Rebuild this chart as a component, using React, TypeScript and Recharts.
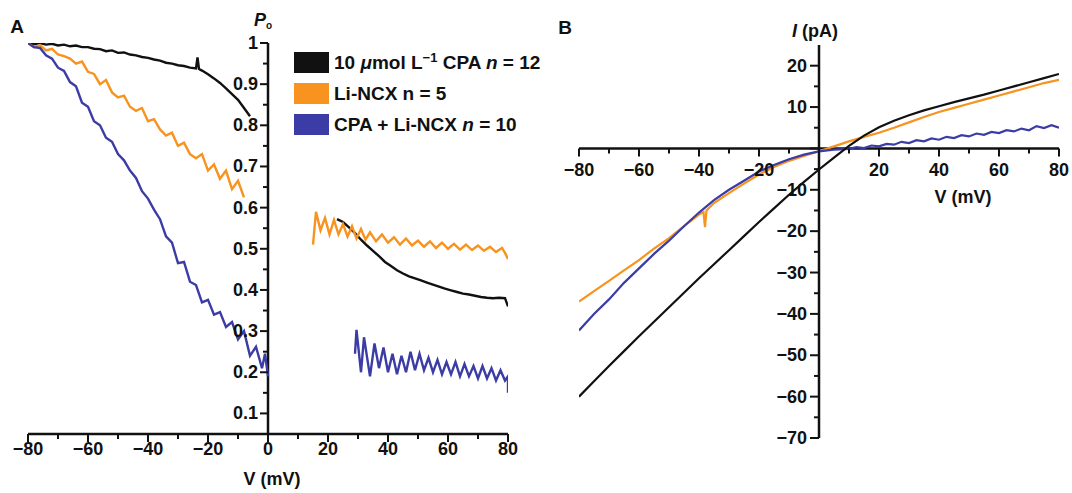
import { LineChart, Line, XAxis, YAxis, ReferenceLine, Legend } from "recharts";

const FONT = "'Liberation Sans', Arial, Helvetica, sans-serif";
const INK = "#111111";
const BLACK = "#111111";
const ORANGE = "#f7931e";
const BLUE = "#3c3ca6";

// ---- panel A: Po vs V (each trace has a left and right segment) ----
const cpaPoLeft: [number, number][] = [
  [-80, 1.0], [-78, 0.997], [-76, 1.0], [-74, 0.996], [-72, 0.998], [-70, 0.994],
  [-68, 0.996], [-66, 0.992], [-64, 0.994], [-62, 0.99], [-60, 0.99], [-58, 0.986],
  [-56, 0.985], [-54, 0.98], [-52, 0.982], [-50, 0.976], [-48, 0.977], [-46, 0.972],
  [-44, 0.97], [-42, 0.966], [-40, 0.964], [-38, 0.96], [-36, 0.957], [-34, 0.952],
  [-32, 0.95], [-30, 0.946], [-28, 0.944], [-26, 0.94], [-24, 0.938], [-23.5, 0.965],
  [-23, 0.937], [-22, 0.933], [-20, 0.924], [-18, 0.914], [-16, 0.903], [-14, 0.89],
  [-12, 0.876], [-10, 0.862], [-8, 0.842], [-6, 0.822],
];
const cpaPoRight: [number, number][] = [
  [23, 0.572], [25, 0.565], [27, 0.552], [29, 0.538], [31, 0.522], [33, 0.508],
  [35, 0.495], [37, 0.482], [39, 0.468], [41, 0.458], [43, 0.448], [45, 0.44],
  [47, 0.433], [49, 0.428], [51, 0.423], [53, 0.418], [55, 0.413], [57, 0.408],
  [59, 0.403], [61, 0.399], [63, 0.395], [65, 0.391], [67, 0.389], [69, 0.386],
  [71, 0.383], [73, 0.381], [75, 0.38], [77, 0.381], [79, 0.38], [80, 0.36],
];
const ncxPoLeft: [number, number][] = [
  [-80, 1.0], [-78, 0.99], [-76, 0.995], [-74, 0.982], [-72, 0.986], [-70, 0.972],
  [-68, 0.968], [-66, 0.962], [-64, 0.95], [-62, 0.955], [-60, 0.93], [-58, 0.925],
  [-56, 0.9], [-54, 0.91], [-52, 0.88], [-50, 0.868], [-48, 0.872], [-46, 0.845],
  [-44, 0.835], [-42, 0.842], [-40, 0.81], [-38, 0.815], [-36, 0.79], [-34, 0.775],
  [-32, 0.782], [-30, 0.75], [-28, 0.758], [-26, 0.73], [-24, 0.72], [-22, 0.73],
  [-20, 0.69], [-18, 0.705], [-16, 0.67], [-14, 0.69], [-12, 0.645], [-10, 0.665],
  [-8, 0.625],
];
const ncxPoRight: [number, number][] = [
  [15, 0.51], [16, 0.59], [17.5, 0.545], [19, 0.575], [20.5, 0.535], [22, 0.57],
  [23.5, 0.535], [25, 0.56], [26.5, 0.53], [28, 0.555], [29.5, 0.525], [31, 0.548],
  [32.5, 0.522], [34, 0.54], [36, 0.518], [38, 0.535], [40, 0.515], [42, 0.528],
  [44, 0.51], [46, 0.525], [48, 0.508], [50, 0.52], [52, 0.505], [54, 0.518],
  [56, 0.502], [58, 0.515], [60, 0.5], [62, 0.512], [64, 0.498], [66, 0.51],
  [68, 0.497], [70, 0.508], [72, 0.495], [74, 0.505], [76, 0.492], [78, 0.502],
  [79, 0.49], [80, 0.475],
];
const bothPoLeft: [number, number][] = [
  [-80, 1.0], [-78, 0.99], [-76, 0.988], [-74, 0.97], [-72, 0.962], [-70, 0.94],
  [-68, 0.932], [-66, 0.905], [-64, 0.895], [-62, 0.855], [-60, 0.845], [-58, 0.81],
  [-56, 0.8], [-54, 0.77], [-52, 0.76], [-50, 0.73], [-48, 0.715], [-46, 0.69],
  [-44, 0.672], [-42, 0.64], [-40, 0.622], [-38, 0.595], [-36, 0.572], [-34, 0.53],
  [-32, 0.515], [-30, 0.465], [-28, 0.468], [-26, 0.42], [-24, 0.412], [-22, 0.37],
  [-20, 0.376], [-18, 0.34], [-16, 0.346], [-14, 0.31], [-12, 0.322], [-10, 0.28],
  [-8, 0.3], [-6, 0.24], [-4, 0.262], [-2, 0.21], [-1, 0.245], [0, 0.19],
];
const bothPoRight: [number, number][] = [
  [29, 0.245], [29.5, 0.303], [31, 0.2], [32, 0.285], [34, 0.19], [35.5, 0.27],
  [37, 0.21], [38.5, 0.26], [40, 0.2], [41.5, 0.245], [43, 0.195], [44.5, 0.24],
  [46, 0.2], [47.5, 0.25], [49, 0.205], [50.5, 0.245], [52, 0.205], [53.5, 0.235],
  [55, 0.2], [56.5, 0.23], [58, 0.195], [59.5, 0.225], [61, 0.195], [62.5, 0.225],
  [64, 0.19], [65.5, 0.22], [67, 0.19], [68.5, 0.215], [70, 0.185], [71.5, 0.215],
  [73, 0.185], [74.5, 0.21], [76, 0.18], [77.5, 0.205], [79, 0.18], [80, 0.19],
  [80, 0.15],
];

// ---- panel B: I-V curves ----
const cpaIV: [number, number][] = [
  [-80, -60], [-75, -56.3], [-70, -52.6], [-65, -49], [-60, -45.4], [-55, -41.9],
  [-50, -38.4], [-45, -34.9], [-40, -31.4], [-35, -28], [-30, -24.6], [-25, -21.2],
  [-20, -17.8], [-15, -14.5], [-10, -11.2], [-5, -8.1], [0, -5.1], [5, -2.2], [10, 0.6],
  [15, 3.1], [20, 5.1], [25, 6.7], [30, 8], [35, 9.2], [40, 10.2], [45, 11.2],
  [50, 12.1], [55, 13], [60, 14], [65, 15], [70, 16], [75, 17], [80, 18],
];
const ncxIV: [number, number][] = [
  [-80, -37], [-75, -34.5], [-70, -32], [-65, -29.5], [-60, -27], [-55, -24.2],
  [-50, -21.7], [-45, -18.8], [-40, -16], [-38.5, -15.4], [-38, -19], [-37.5, -15],
  [-35, -13.2], [-30, -10.8], [-25, -8.5], [-20, -6.3], [-15, -4.5], [-10, -3],
  [-5, -1.8], [0, -0.7], [5, 0.5], [10, 1.7], [15, 2.8], [20, 3.8], [25, 5],
  [30, 6.3], [35, 7.6], [40, 8.8], [45, 9.8], [50, 10.8], [55, 11.8], [60, 12.8],
  [65, 13.8], [70, 14.8], [75, 15.8], [80, 16.6],
];
const bothIV: [number, number][] = [
  [-80, -44], [-75, -40], [-70, -36.5], [-65, -32.5], [-60, -29], [-55, -25.5],
  [-50, -22.3], [-45, -18.8], [-40, -15.5], [-35, -12.5], [-30, -10], [-25, -7.8],
  [-20, -5.6], [-15, -4], [-10, -2.6], [-5, -1.5], [0, -0.7], [5, -0.3], [10, -0.1],
  [12.5, 0.3], [15, 0.1], [17.5, 0.7], [20, 0.5], [22.5, 1.1], [25, 0.9], [27.5, 1.6],
  [30, 1.3], [32.5, 2.0], [35, 1.7], [37.5, 2.4], [40, 2.1], [42.5, 2.8], [45, 2.5],
  [47.5, 3.2], [50, 2.9], [52.5, 3.6], [55, 3.3], [57.5, 4.0], [60, 3.7], [62.5, 4.4],
  [65, 4.1], [67.5, 4.8], [70, 4.4], [72.5, 5.4], [75, 4.9], [77.5, 5.6], [80, 5.0],
];

const vTicks = [-80, -70, -60, -50, -40, -30, -20, -10, 0, 10, 20, 30, 40, 50, 60, 70, 80];
const poTicks = [0.1, 0.15, 0.2, 0.25, 0.3, 0.35, 0.4, 0.45, 0.5, 0.55, 0.6, 0.65, 0.7, 0.75, 0.8, 0.85, 0.9, 0.95, 1];
const iTicks = [-70, -65, -60, -55, -50, -45, -40, -35, -30, -25, -20, -15, -10, -5, 0, 5, 10, 15, 20];

const legendItems = [
  { color: BLACK, label: <>10 <i>μ</i>mol L<sup style={{ fontSize: 13, verticalAlign: 7, lineHeight: 0 }}>−1</sup> CPA <i>n</i> = 12</> },
  { color: ORANGE, label: <>Li-NCX n = 5</> },
  { color: BLUE, label: <>CPA + Li-NCX <i>n</i> = 10</> },
];

const rows = (pts: [number, number][]) => pts.map(([v, y]) => ({ v, y }));

// geometry (chart coordinates); axes take 1px each
const A_M = { top: 43, right: 32, bottom: 58, left: 27 };
const A_BOTTOM = 493 - A_M.bottom - 1;
const A_ZERO_X = A_M.left + 1 + 240;
const B_M = { top: 45, right: 13, bottom: 54, left: 38 };
const B_ZERO_X = B_M.left + 1 + 240;
const B_ZERO_Y = B_M.top + (493 - B_M.top - B_M.bottom - 1) * 25 / 95;

const tickText = { fontFamily: FONT, fontWeight: 700, fontSize: 18, fill: INK };
const fmt = (v: number) => (v < 0 ? "\u2212" + Math.abs(v) : String(v));

function VTickA(props: any) {
  const { x, payload } = props;
  const v = payload.value;
  const major = v % 20 === 0;
  return (
    <g>
      <line x1={x} x2={x} y1={A_BOTTOM} y2={A_BOTTOM + (major ? 8 : 5)} stroke={INK} strokeWidth={2} />
      {major && (
        <text x={x} y={A_BOTTOM + 15} textAnchor="middle" dominantBaseline="central" style={tickText}>
          {fmt(v)}
        </text>
      )}
    </g>
  );
}

function PoTick(props: any) {
  const { y, payload } = props;
  const v = payload.value;
  const major = Math.round(v * 100) % 10 === 0;
  return (
    <g>
      <line x1={A_ZERO_X - (major ? 8 : 5)} x2={A_ZERO_X} y1={y} y2={y} stroke={INK} strokeWidth={2} />
      {major && (
        <text x={A_ZERO_X - 10} y={y} textAnchor="end" dominantBaseline="central" style={tickText}>
          {v === 1 ? "1" : v.toFixed(1)}
        </text>
      )}
    </g>
  );
}

function VTickB(props: any) {
  const { x, payload } = props;
  const v = payload.value;
  const major = v % 20 === 0;
  return (
    <g>
      <line x1={x} x2={x} y1={B_ZERO_Y} y2={B_ZERO_Y + (major ? 8 : 5)} stroke={INK} strokeWidth={2} />
      {major && v !== 0 && (
        <text x={x} y={B_ZERO_Y + 22} textAnchor="middle" dominantBaseline="central" style={tickText}>
          {fmt(v)}
        </text>
      )}
    </g>
  );
}

function ITick(props: any) {
  const { y, payload } = props;
  const v = payload.value;
  const major = v % 10 === 0;
  return (
    <g>
      <line x1={B_ZERO_X - (major ? 9 : 5)} x2={B_ZERO_X} y1={y} y2={y} stroke={INK} strokeWidth={2} />
      {major && v !== 0 && (
        <text x={B_ZERO_X - 12} y={y} textAnchor="end" dominantBaseline="central" style={tickText}>
          {fmt(v)}
        </text>
      )}
    </g>
  );
}

function LegendBox() {
  return (
    <div style={{ fontFamily: FONT, fontWeight: 700, fontSize: 19, color: INK }}>
      {legendItems.map((it, i) => (
        <div key={i} style={{ display: "flex", alignItems: "center", height: 31, whiteSpace: "nowrap" }}>
          <span style={{ width: 35, height: 21, background: it.color, marginRight: 5, display: "inline-block" }} />
          <span>{it.label}</span>
        </div>
      ))}
    </div>
  );
}

const label = (left: number, top: number, size = 18): React.CSSProperties => ({
  position: "absolute",
  left,
  top,
  transform: "translate(-50%, -50%)",
  fontFamily: FONT,
  fontWeight: 700,
  fontSize: size,
  color: INK,
  whiteSpace: "nowrap",
  lineHeight: 1,
});

export default function App() {
  return (
    <div style={{ position: "absolute", left: 0, top: 0, width: 1072, height: 493, background: "#fff" }}>
      <div style={{ position: "absolute", left: 0, top: 0 }}>
        <LineChart width={540} height={493} margin={A_M}>
          <XAxis
            type="number"
            dataKey="v"
            domain={[-80, 80]}
            ticks={vTicks}
            interval={0}
            height={1}
            allowDataOverflow
            axisLine={{ stroke: INK, strokeWidth: 2.5 }}
            tickLine={false}
            tick={VTickA}
          />
          <YAxis
            type="number"
            domain={[0.05, 1]}
            ticks={poTicks}
            interval={0}
            width={1}
            allowDataOverflow
            axisLine={false}
            tickLine={false}
            tick={PoTick}
          />
          <ReferenceLine x={0} stroke={INK} strokeWidth={2.5} />
          <Line data={rows(cpaPoLeft)} dataKey="y" stroke={BLACK} strokeWidth={2.4} dot={false} isAnimationActive={false} />
          <Line data={rows(cpaPoRight)} dataKey="y" stroke={BLACK} strokeWidth={2.4} dot={false} isAnimationActive={false} />
          <Line data={rows(ncxPoLeft)} dataKey="y" stroke={ORANGE} strokeWidth={2.4} dot={false} isAnimationActive={false} />
          <Line data={rows(ncxPoRight)} dataKey="y" stroke={ORANGE} strokeWidth={2.4} dot={false} isAnimationActive={false} />
          <Line data={rows(bothPoLeft)} dataKey="y" stroke={BLUE} strokeWidth={2.4} dot={false} isAnimationActive={false} />
          <Line data={rows(bothPoRight)} dataKey="y" stroke={BLUE} strokeWidth={2.4} dot={false} isAnimationActive={false} />
          <Legend
            layout="vertical"
            align="center"
            verticalAlign="middle"
            content={() => <LegendBox />}
            wrapperStyle={{ left: 294, top: 47, width: 280 }}
          />
        </LineChart>
      </div>

      <div style={{ position: "absolute", left: 540, top: 0 }}>
        <LineChart width={532} height={493} margin={B_M}>
          <XAxis
            type="number"
            dataKey="v"
            domain={[-80, 80]}
            ticks={vTicks}
            interval={0}
            height={1}
            allowDataOverflow
            axisLine={false}
            tickLine={false}
            tick={VTickB}
          />
          <YAxis
            type="number"
            domain={[-70, 25]}
            ticks={iTicks}
            interval={0}
            width={1}
            allowDataOverflow
            axisLine={false}
            tickLine={false}
            tick={ITick}
          />
          <ReferenceLine y={0} stroke={INK} strokeWidth={2.5} />
          <ReferenceLine x={0} stroke={INK} strokeWidth={2.5} />
          <Line data={rows(ncxIV)} dataKey="y" stroke={ORANGE} strokeWidth={2.2} dot={false} isAnimationActive={false} />
          <Line data={rows(bothIV)} dataKey="y" stroke={BLUE} strokeWidth={2.2} dot={false} isAnimationActive={false} />
          <Line data={rows(cpaIV)} dataKey="y" stroke={BLACK} strokeWidth={2.2} dot={false} isAnimationActive={false} />
        </LineChart>
      </div>

      <div style={label(17, 26, 19)}>A</div>
      <div style={label(565, 27, 19)}>B</div>
      <div style={label(263, 21, 18)}>
        <i>P</i>
        <sub style={{ fontSize: 10, verticalAlign: -3 }}>o</sub>
      </div>
      <div style={label(272, 479)}>V (mV)</div>
      <div style={label(815, 31)}>
        <i>I</i> (pA)
      </div>
      <div style={label(963, 197)}>V (mV)</div>
    </div>
  );
}
